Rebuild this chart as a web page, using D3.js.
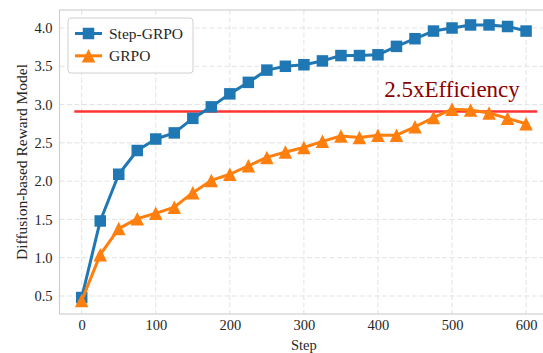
<!DOCTYPE html>
<html>
<head>
<meta charset="utf-8">
<script src="https://cdn.jsdelivr.net/npm/d3@7"></script>
<style>
  html, body { margin: 0; padding: 0; background: #fff; }
  svg { display: block; }
  svg text { font-family: "Times New Roman", "Liberation Serif", Times, Tinos, "Nimbus Roman", serif !important; }
</style>
</head>
<body>
<svg id="chart" width="543" height="353"></svg>
<script>
const steps = [0,25,50,75,100,125,150,175,200,225,250,275,300,325,350,375,400,425,450,475,500,525,550,575,600];
const stepGRPO = [0.48,1.48,2.09,2.40,2.55,2.63,2.82,2.97,3.14,3.29,3.45,3.50,3.52,3.57,3.64,3.64,3.65,3.76,3.86,3.96,4.00,4.04,4.04,4.02,3.96];
const grpo = [0.44,1.04,1.38,1.51,1.58,1.66,1.85,2.01,2.09,2.20,2.31,2.38,2.44,2.52,2.59,2.57,2.60,2.60,2.71,2.83,2.94,2.93,2.89,2.82,2.75];
const xTicks = [0,100,200,300,400,500,600];
const yTicks = [0.5,1.0,1.5,2.0,2.5,3.0,3.5,4.0];
const seriesNames = ["Step-GRPO","GRPO"];
const seriesColors = ["#1f77b4","#ff7f0e"];
const efficiencyLevel = 2.91;
const efficiencyLabel = "2.5xEfficiency";
const efficiencyLabelX = 500;
const efficiencySpan = [-10, 615];

(function () {
const svg = d3.select("#chart");
const x = d3.scaleLinear().domain([-30, 630]).range([59.5, 548.3]);
const y = d3.scaleLinear().domain([0.265, 4.235]).range([314, 10]);
const pl = x.range()[0], pr = x.range()[1], pt = y.range()[1], pb = y.range()[0];

// grid
const grid = svg.append("g");
grid.selectAll(".gx").data(xTicks).join("line").attr("class", "gx")
  .attr("x1", d => x(d)).attr("x2", d => x(d)).attr("y1", pt).attr("y2", pb)
  .attr("stroke", "#e3e3e3").attr("stroke-width", 1).attr("stroke-dasharray", "5,2.5");
grid.selectAll(".gy").data(yTicks).join("line").attr("class", "gy")
  .attr("x1", pl).attr("x2", pr).attr("y1", d => y(d)).attr("y2", d => y(d))
  .attr("stroke", "#e3e3e3").attr("stroke-width", 1).attr("stroke-dasharray", "5,2.5");

// spines
svg.append("rect").attr("x", pl).attr("y", pt).attr("width", pr - pl).attr("height", pb - pt)
  .attr("fill", "none").attr("stroke", "#cccccc").attr("stroke-width", 1.1);

// axes (labels only)
const xAxis = d3.axisBottom(x).tickValues(xTicks).tickSize(0).tickPadding(6).tickFormat(d3.format("d"));
const gx = svg.append("g").attr("transform", `translate(0,${pb})`).call(xAxis);
gx.select(".domain").remove();
gx.selectAll("text").attr("font-size", "14.5px").attr("fill", "#262626");

const yAxis = d3.axisLeft(y).tickValues(yTicks).tickSize(0).tickPadding(7).tickFormat(d3.format(".1f"));
const gy = svg.append("g").attr("transform", `translate(${pl},0)`).call(yAxis);
gy.select(".domain").remove();
gy.selectAll("text").attr("font-size", "14.5px").attr("fill", "#262626");

svg.append("text").attr("x", x(300)).attr("y", 350).attr("text-anchor", "middle")
  .attr("font-size", "14.5px").attr("fill", "#262626").text("Step");
svg.append("text").attr("transform", `translate(27,${(pt + pb) / 2}) rotate(-90)`)
  .attr("text-anchor", "middle").attr("font-size", "15.5px").attr("fill", "#262626")
  .text("Diffusion-based Reward Model");

// efficiency line
svg.append("line").attr("x1", x(efficiencySpan[0])).attr("x2", x(efficiencySpan[1]))
  .attr("y1", y(efficiencyLevel)).attr("y2", y(efficiencyLevel))
  .attr("stroke", "rgba(255,0,0,0.8)").attr("stroke-width", 2.5);
svg.append("text").attr("x", x(efficiencyLabelX)).attr("y", y(efficiencyLevel) - 14.5)
  .attr("text-anchor", "middle").attr("font-size", "23px").attr("fill", "#8b0000")
  .text(efficiencyLabel);

// series
const squarePath = (cx, cy, s) => `M${cx - s/2},${cy - s/2}h${s}v${s}h${-s}Z`;
const triPath = (cx, cy, s) => `M${cx},${cy - s/2}L${cx + s/2},${cy + s/2}L${cx - s/2},${cy + s/2}Z`;
const line = d3.line().x((d, i) => x(steps[i])).y(d => y(d));
const allSeries = [stepGRPO, grpo];
const markers = [squarePath, triPath];
const markerSize = [11.5, 13.5];

allSeries.forEach((vals, k) => {
  const g = svg.append("g");
  g.append("path").attr("d", line(vals)).attr("fill", "none")
    .attr("stroke", seriesColors[k]).attr("stroke-width", 3).attr("stroke-linejoin", "round");
  g.selectAll("path.m").data(vals).join("path").attr("class", "m")
    .attr("d", (d, i) => markers[k](x(steps[i]), y(d), markerSize[k]))
    .attr("fill", seriesColors[k]);
});

// legend
const lg = svg.append("g");
lg.append("rect").attr("x", 68).attr("y", 18).attr("width", 125).attr("height", 55).attr("rx", 3)
  .attr("fill", "rgba(255,255,255,0.8)").attr("stroke", "#d0d0d0").attr("stroke-width", 1);
seriesNames.forEach((name, k) => {
  const cy = 33.5 + k * 22.3;
  lg.append("line").attr("x1", 75).attr("x2", 102).attr("y1", cy).attr("y2", cy)
    .attr("stroke", seriesColors[k]).attr("stroke-width", 3);
  lg.append("path").attr("d", markers[k](88.5, cy, markerSize[k])).attr("fill", seriesColors[k]);
  lg.append("text").attr("x", 109).attr("y", cy + 5.2).attr("font-size", "15.5px").attr("fill", "#262626").text(name);
});
})();
</script>
</body>
</html>
